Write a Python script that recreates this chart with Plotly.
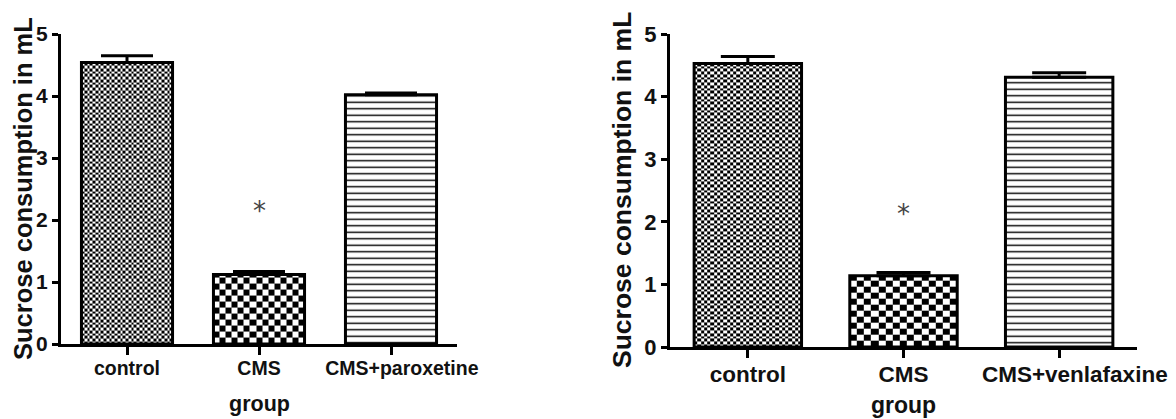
import numpy as np
import plotly.graph_objects as go

categories_left = ["control", "CMS", "CMS+paroxetine"]
values_left = [4.54, 1.12, 4.02]
errors_left = [0.11, 0.05, 0.03]

categories_right = ["control", "CMS", "CMS+venlafaxine"]
values_right = [4.53, 1.14, 4.31]
errors_right = [0.11, 0.05, 0.07]

y_ticks = [0, 1, 2, 3, 4, 5]
y_title = "Sucrose consumption in mL"
x_title = "group"
star_text = "*"
star_values = [2.15, 2.12]

OFF = 8  # default page body margin
W, H = 1176 - OFF, 419 - OFF
FONT = "Liberation Sans"


def px(x):
    return (x - OFF) / W


def py(y):
    return 1 - (y - OFF) / H


BAR_W = 0.69
# checkerboard textures (columns across a bar, cell height in axis units)
checker = {0: (33, 0.044), 1: (15, 0.097)}
stripe = dict(shape="-", size=6.5, solidity=0.22, fgcolor="black", fgopacity=1,
              bgcolor="white", fillmode="overlay")

panels = [
    dict(cats=categories_left, vals=values_left, errs=errors_left, sfx="",
         xdom=[px(61), px(457)], ydom=[py(344), py(34)], xfont=19.5, yfont=21, lpad=4,
         tfont=25.5, tx=23, ty=189, gx=259, gy=404, gfont=21.5, cap=26),
    dict(cats=categories_right, vals=values_right, errs=errors_right, sfx="2",
         xdom=[px(670), px(1137)], ydom=[py(347), py(34)], xfont=22.5, yfont=22, lpad=5,
         tfont=26.5, tx=622, ty=190, gx=903, gy=405, gfont=23, cap=27),
]

fig = go.Figure()
annos = []
layout = {}

for p_i, p in enumerate(panels):
    xa, ya = "x" + p["sfx"], "y" + p["sfx"]
    # checkerboard fills for the first two bars
    for j in (0, 1):
        ncol, ch = checker[j]
        v = p["vals"][j]
        xe = np.linspace(j - BAR_W / 2, j + BAR_W / 2, ncol + 1)
        ye = np.append(np.arange(0, v, ch), v)
        z = [[(r + c) % 2 for c in range(ncol)] for r in range(len(ye) - 1)]
        fig.add_trace(go.Heatmap(x=xe, y=ye, z=z, xaxis=xa, yaxis=ya,
                                 colorscale=[[0, "white"], [1, "black"]], zmin=0, zmax=1,
                                 showscale=False, hoverinfo="skip", zsmooth=False))
    for j in range(3):
        marker = dict(color="rgba(0,0,0,0)" if j < 2 else "white",
                      line=dict(color="black", width=3))
        if j == 2:
            marker["pattern"] = stripe
        fig.add_trace(go.Bar(
            x=[j], y=[p["vals"][j]], xaxis=xa, yaxis=ya, width=BAR_W, marker=marker,
            error_y=dict(type="data", array=[p["errs"][j]], arrayminus=[0], symmetric=False,
                         color="black", thickness=3, width=p["cap"]),
            showlegend=False, hoverinfo="skip",
        ))
    # the long last label sits a little right of its tick in the reference
    ticktext = list(p["cats"][:2]) + [" " * p["lpad"] + p["cats"][2]]
    layout["xaxis" + p["sfx"]] = dict(
        domain=p["xdom"], anchor=ya, range=[-0.5, 2.5], tickvals=[0, 1, 2], ticktext=ticktext,
        showline=True, linewidth=3, linecolor="black",
        ticks="outside", ticklen=8, tickwidth=3, tickcolor="black", ticklabelstandoff=-3,
        tickfont=dict(family=FONT, size=p["xfont"], color="#111", weight="bold"),
        showgrid=False, zeroline=False, fixedrange=True)
    layout["yaxis" + p["sfx"]] = dict(
        domain=p["ydom"], anchor=xa, range=[0, 5], tickvals=y_ticks,
        showline=True, linewidth=3, linecolor="black",
        ticks="outside", ticklen=6, tickwidth=3, tickcolor="black",
        tickfont=dict(family=FONT, size=p["yfont"], color="#111", weight="bold"),
        showgrid=False, zeroline=False, fixedrange=True)
    annos.append(dict(text=y_title, xref="paper", yref="paper", x=px(p["tx"]), y=py(p["ty"]),
                      textangle=-90, showarrow=False, xanchor="center", yanchor="middle",
                      font=dict(family=FONT, size=p["tfont"], color="#111", weight="bold")))
    annos.append(dict(text=x_title, xref="paper", yref="paper", x=px(p["gx"]), y=py(p["gy"]),
                      showarrow=False, xanchor="center", yanchor="middle",
                      font=dict(family=FONT, size=p["gfont"], color="#111", weight="bold")))
    annos.append(dict(text=star_text, xref=xa, yref=ya, x=1, y=star_values[p_i], showarrow=False,
                      xanchor="center", yanchor="middle",
                      font=dict(family="DejaVu Sans", size=26, color="#444")))

fig.update_layout(
    width=W, height=H,
    margin=dict(l=0, r=0, t=0, b=0, autoexpand=False),
    paper_bgcolor="white", plot_bgcolor="white",
    annotations=annos, **layout,
)

fig.write_html("out.html")
